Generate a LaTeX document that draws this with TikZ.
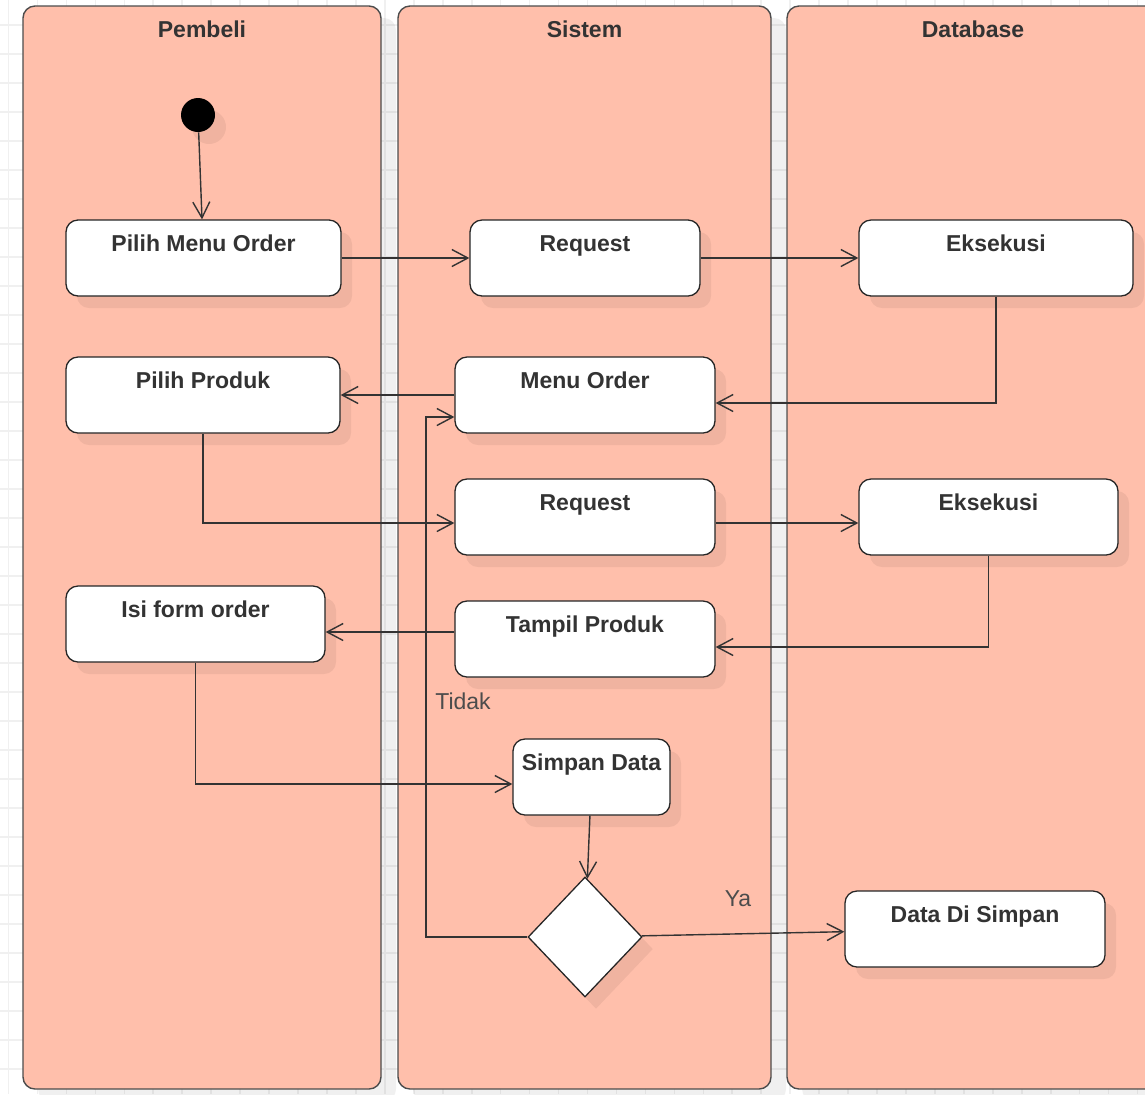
\documentclass[tikz,border=0pt]{standalone}
\usepackage{fontspec}
\setmainfont{Liberation Sans}
\usetikzlibrary{positioning,shadows,shapes.geometric,arrows.meta}

\begin{document}
\begin{tikzpicture}[x=0.5pt,y=-0.5pt]
  % some colors
  \definecolor{lane}{RGB}{255,191,171}
  \colorlet{ink}{black!80}
  % some styles
  \tikzset{
    lanebox/.style={
      rounded corners=6pt,
      fill=lane,
      draw=black!70,
      line width=0.7pt,
      drop shadow={shadow xshift=7.5pt,shadow yshift=-6pt,fill=black,opacity=0.06},
    },
    act/.style={
      rectangle,
      rounded corners=6pt,
      minimum width=#1*0.5pt,
      minimum height=38pt,
      inner sep=0pt,
      text height=8.5pt,
      text depth=15.5pt,
      draw=black!85,
      fill=white,
      line width=0.65pt,
      font=\bfseries\fontsize{11.5}{13}\selectfont,
      text=ink,
      drop shadow={shadow xshift=5.5pt,shadow yshift=-6pt,fill=black,opacity=0.06},
    },
    title/.style={font=\bfseries\fontsize{11.5}{13}\selectfont, text=ink},
    guard/.style={font=\fontsize{11.5}{13}\selectfont, text=black!70},
    flow/.style={draw=black!80, line width=0.7pt, -{Straight Barb[length=8pt,width=8.5pt]}},
  }
  \useasboundingbox (0,0) rectangle (1145,1094);
  \clip (0,0) rectangle (1145,1094);
  % grid
  \foreach \gx in {0,...,39}
    \draw[black!6, line width=0.8pt] (8.5+\gx*28.95,0) -- ++(0,1094);
  \foreach \gy in {0,...,37}
    \draw[black!6, line width=0.8pt] (0,25+\gy*29) -- ++(1145,0);
  % swimlanes
  \draw[lanebox] (23,6) rectangle (381,1089);
  \draw[lanebox] (398,6) rectangle (771,1089);
  \draw[lanebox] (787,6) rectangle (1159,1089);
  \node[title] (t-pembeli) at (202,29) {Pembeli};
  \node[title] (t-sistem) at (584.5,29) {Sistem};
  \node[title] (t-database) at (973,29) {Database};
  % activities
  \node[circle, fill=black, minimum size=17pt, inner sep=0pt,
    drop shadow={shadow xshift=5.5pt,shadow yshift=-6pt,fill=black,opacity=0.06}] (start) at (198,115) {};
  \node[act=275] (pilih-menu) at (203.5,258) {Pilih Menu Order};
  \node[act=230] (req-1) at (585,258) {Request};
  \node[act=274] (eks-1) at (996,258) {Eksekusi};
  \node[act=274] (pilih-produk) at (203,395) {Pilih Produk};
  \node[act=260] (menu) at (585,395) {Menu Order};
  \node[act=260] (req-2) at (585,517) {Request};
  \node[act=259] (eks-2) at (988.5,517) {Eksekusi};
  \node[act=259] (isi-form) at (195.5,624) {Isi form order};
  \node[act=260] (tampil) at (585,639) {Tampil Produk};
  \node[act=157] (simpan) at (591.5,777) {Simpan Data};
  \node[diamond, draw=black!85, fill=white, line width=0.65pt,
    minimum width=57pt, minimum height=60pt, inner sep=0pt,
    drop shadow={shadow xshift=5.5pt,shadow yshift=-6pt,fill=black,opacity=0.06}] (cek) at (585,937) {};
  \node[act=260] (data-simpan) at (975,929) {Data Di Simpan};
  % guards
  \node[guard] (tidak) at (463,701) {Tidak};
  \node[guard] (ya) at (738,899) {Ya};
  % flows
  \draw[flow] (start) -- (pilih-menu);
  \draw[flow] (pilih-menu) -- (req-1);
  \draw[flow] (req-1) -- (eks-1);
  \draw[flow] (eks-1.south) |- ([yshift=-4pt]menu.east);
  \draw[flow] (menu) -- (pilih-produk);
  \draw[flow] (pilih-produk.south) |- ([yshift=-3pt]req-2.west);
  \draw[flow] ([yshift=-3pt]req-2.east) -- ([yshift=-3pt]eks-2.west);
  \draw[flow] (eks-2.south) |- ([yshift=-4pt]tampil.east);
  \draw[flow] ([yshift=3.5pt]tampil.west) -- ([yshift=3.5pt]tampil.west -| isi-form.east);
  \draw[flow] (isi-form.south) |- ([yshift=-3.5pt]simpan.west);
  \draw[flow] (simpan) -- (cek);
  \coordinate (balik) at (426,937);
  \draw[flow] (cek.west) -- (balik) |- ([yshift=-11pt]menu.west);
  \draw[flow] (cek) -- (data-simpan);
\end{tikzpicture}
\end{document}
